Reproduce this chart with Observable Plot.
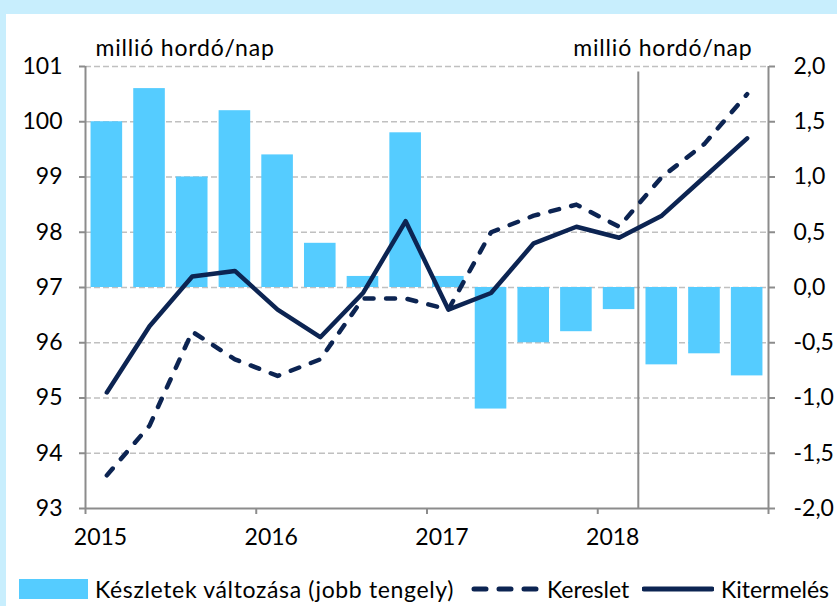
<!DOCTYPE html>
<html><head><meta charset="utf-8">
<script src="https://cdn.jsdelivr.net/npm/d3@7"></script>
<script src="https://cdn.jsdelivr.net/npm/@observablehq/plot@0.6"></script>
<style>
html,body{margin:0;padding:0;background:#c8eefd;width:837px;height:606px;overflow:hidden;}
#panel{position:absolute;left:6px;top:14px;width:831px;height:592px;background:#fff;font-family:Lato,sans-serif;color:#000;}
#chart{position:absolute;left:0;top:0;}
#legend{position:absolute;left:0;top:558px;width:831px;height:34px;font-size:23px;}
.item{position:absolute;top:0;height:34px;display:flex;align-items:center;white-space:nowrap;}
</style></head><body>
<div id="panel"><div id="chart"></div><div id="legend"></div></div>
<script>
const quarters = ["2015 Q1","2015 Q2","2015 Q3","2015 Q4","2016 Q1","2016 Q2","2016 Q3","2016 Q4",
                  "2017 Q1","2017 Q2","2017 Q3","2017 Q4","2018 Q1","2018 Q2","2018 Q3","2018 Q4"];
const years = ["2015","2016","2017","2018"];
// Készletek változása (jobb tengely), millió hordó/nap
const keszletek = [1.5,1.8,1.0,1.6,1.2,0.4,0.1,1.4,0.1,-1.1,-0.5,-0.4,-0.2,-0.7,-0.6,-0.8];
// Kereslet (bal tengely)
const kereslet = [93.6,94.5,96.2,95.7,95.4,95.7,96.8,96.8,96.6,98.0,98.3,98.5,98.1,99.0,99.6,100.5];
// Kitermelés (bal tengely)
const kitermeles = [95.1,96.3,97.2,97.3,96.6,96.1,96.9,98.2,96.6,96.9,97.8,98.1,97.9,98.3,99.0,99.7];
const leftTicks = [93,94,95,96,97,98,99,100,101];
const unitLabel = "millió hordó/nap";
const legendLabels = ["Készletek változása (jobb tengely)","Kereslet","Kitermelés"];
const forecastStart = 12.95; // quarter index where the forecast period begins

// right axis value r corresponds to left value 97 + 2*r
const rightZero = 97, rightScale = 2;
const toLeft = r => rightZero + rightScale * r;

const data = quarters.map((q, i) => ({i, q, k: keszletek[i], d: kereslet[i], s: kitermeles[i]}));

const BAR = "#55ccff", NAVY = "#0c2452", AXIS = "#8c8c8c", GRID = "#c0c0c0";

const chart = Plot.plot({
  width: 831, height: 560,
  marginLeft: 79, marginRight: 69, marginTop: 52, marginBottom: 66,
  style: {fontFamily: "Lato, sans-serif", fontSize: "23px", color: "#000", background: "transparent", overflow: "visible"},
  x: {domain: [0, 16], axis: null},
  y: {domain: [93, 101], axis: null},
  marks: [
    Plot.ruleY(leftTicks.slice(1), {stroke: GRID, strokeWidth: 1.6, strokeDasharray: "6,3"}),
    Plot.rectY(data, {x1: d => d.i + 0.13, x2: d => d.i + 0.87, y1: rightZero, y2: d => toLeft(d.k), fill: BAR}),
    Plot.ruleX([forecastStart], {y1: 93, y2: 100.9, stroke: AXIS, strokeWidth: 2}),
    Plot.ruleX([0, 16], {y1: 93, y2: 101, stroke: AXIS, strokeWidth: 2}),
    Plot.ruleY([93], {x1: 0, x2: 16, stroke: AXIS, strokeWidth: 2}),
    Plot.axisY({anchor: "left", ticks: leftTicks, tickSize: 6, tickPadding: 17, stroke: AXIS, strokeWidth: 2, fill: "#000", tickFormat: d => String(d), label: null}),
    Plot.axisY({anchor: "right", ticks: leftTicks, tickSize: 6, tickPadding: 19, stroke: AXIS, strokeWidth: 2, fill: "#000",
      tickFormat: v => ((v - rightZero) / rightScale).toFixed(1).replace(".", ","), label: null}),
    Plot.axisX({anchor: "bottom", ticks: [0, 4, 8, 12, 16], tickSize: 6, stroke: AXIS, strokeWidth: 2, tickFormat: () => "", label: null}),
    Plot.text(years, {x: (d, i) => i * 4, frameAnchor: "bottom", dy: 36, dx: 15, fill: "#000"}),
    Plot.line(data, {x: d => d.i + 0.5, y: "d", stroke: NAVY, strokeWidth: 4.5, strokeDasharray: "9,12.5", strokeLinecap: "round", strokeLinejoin: "round"}),
    Plot.line(data, {x: d => d.i + 0.5, y: "s", stroke: NAVY, strokeWidth: 4.5, strokeLinecap: "round", strokeLinejoin: "round"}),
    Plot.text([unitLabel], {frameAnchor: "top-left", dx: 10, dy: -11, textAnchor: "start", lineAnchor: "bottom", fill: "#000"}),
    Plot.text([unitLabel], {frameAnchor: "top-right", dx: -16, dy: -11, textAnchor: "end", lineAnchor: "bottom", fill: "#000"})
  ]
});
// letter spacing on the unit titles to match the reference text widths
chart.querySelectorAll("text").forEach(t => { if (t.textContent === unitLabel) t.setAttribute("letter-spacing", "0.8"); });
document.getElementById("chart").appendChild(chart);

// legend
const legend = document.getElementById("legend");
function item(left, swatchHtml, label, spacing) {
  const el = document.createElement("div");
  el.className = "item";
  el.style.left = left + "px";
  el.innerHTML = swatchHtml + `<span style="margin-left:7px;letter-spacing:${spacing}px">${label}</span>`;
  legend.appendChild(el);
}
item(13, `<svg width="69" height="20"><rect x="0" y="0" width="69" height="20" fill="${BAR}"/></svg>`, legendLabels[0], 0.65);
item(464, `<svg width="70" height="10"><line x1="4" y1="5" x2="66" y2="5" stroke="${NAVY}" stroke-width="5" stroke-linecap="round" stroke-dasharray="12,13"/></svg>`, legendLabels[1], 0);
item(636, `<svg width="72" height="10"><line x1="2" y1="5" x2="70" y2="5" stroke="${NAVY}" stroke-width="5" stroke-linecap="round"/></svg>`, legendLabels[2], 0);
</script>
</body></html>
